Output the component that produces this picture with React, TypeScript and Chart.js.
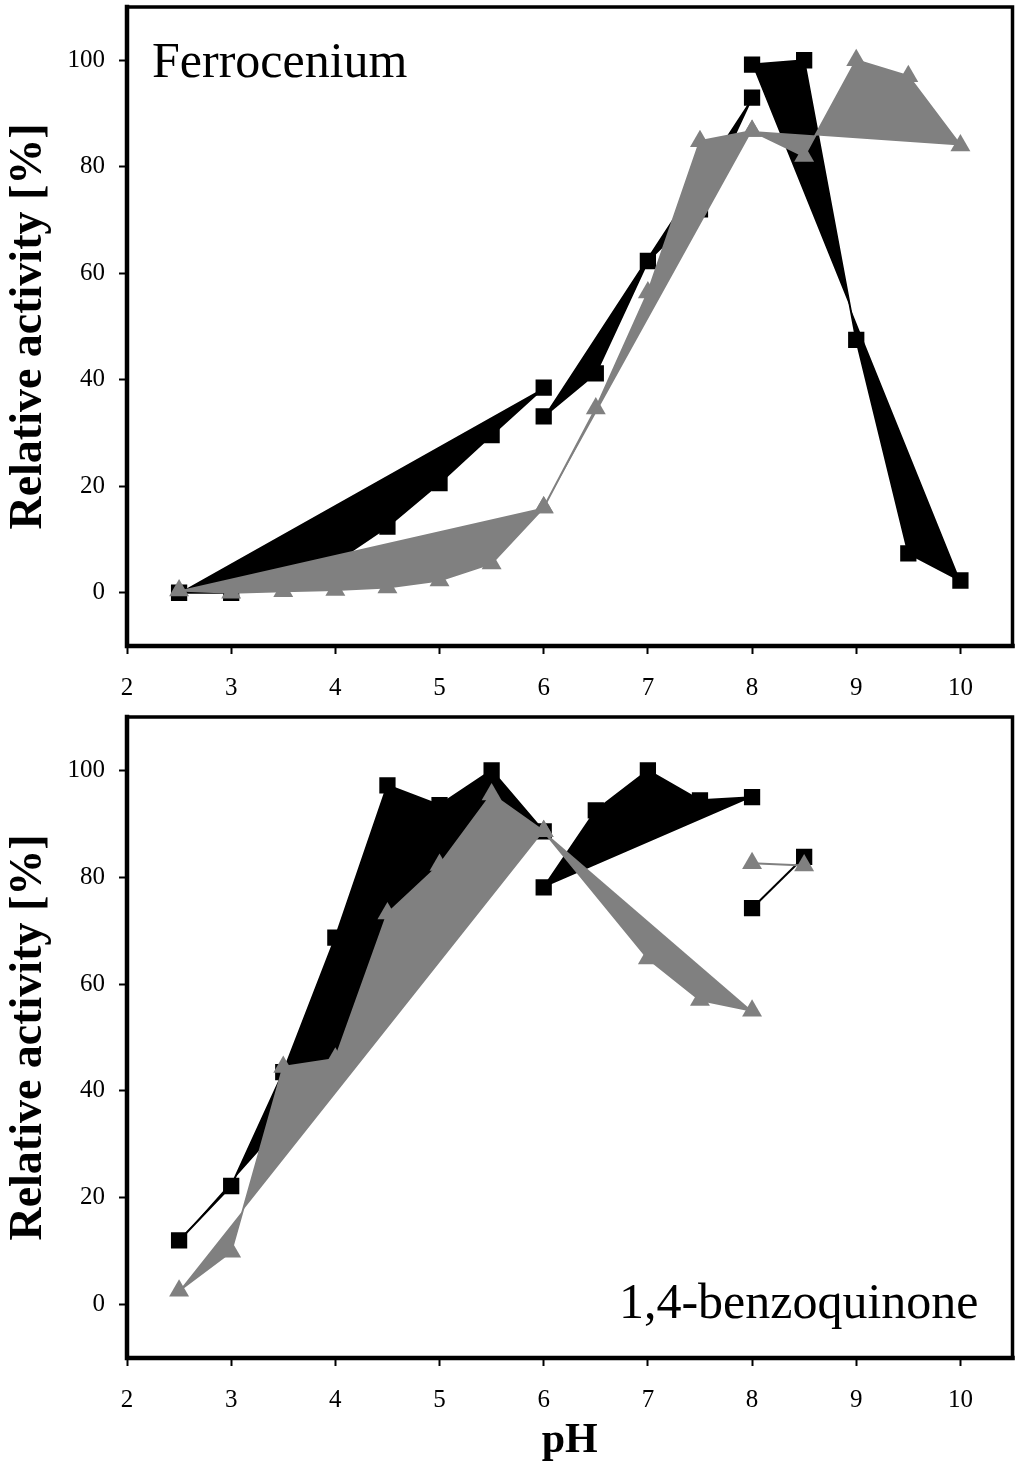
import React, { useEffect, useRef } from "react";
import { Chart, registerables } from "chart.js";

Chart.register(...registerables);

// ---------- data ----------
const xTickValues = [2, 3, 4, 5, 6, 7, 8, 9, 10];
const yTickValues = [0, 20, 40, 60, 80, 100];

// Ferrocenium – black squares (three buffer segments)
const ferroBlackA_pH = [2.5, 3, 3.5, 4, 4.5, 5, 5.5, 6];
const ferroBlackA_act = [0, 0, 2, 5.8, 12.4, 20.6, 29.6, 38.5];
const ferroBlackB_pH = [6, 6.5, 7, 7.5, 8];
const ferroBlackB_act = [33.1, 41.2, 62.3, 72, 93];
const ferroBlackC_pH = [8, 8.5, 9, 9.5, 10];
const ferroBlackC_act = [99.2, 100, 47.5, 7.4, 2.3];

// Ferrocenium – grey triangles
const ferroGreyA_pH = [2.5, 3, 3.5, 4, 4.5, 5, 5.5, 6];
const ferroGreyA_act = [0.4, 0, 0.3, 0.5, 1, 2.3, 5.5, 16];
const ferroGreyB_pH = [6, 6.5, 7, 7.5, 8];
const ferroGreyB_act = [16, 34.6, 56.4, 84.8, 86.7];
const ferroGreyC_pH = [8, 8.5, 9, 9.5, 10];
const ferroGreyC_act = [86.7, 82, 100, 97, 84];

// 1,4-benzoquinone – black squares
const bqBlackA_pH = [2.5, 3, 3.5, 4, 4.5, 5, 5.5, 6];
const bqBlackA_act = [12, 22.2, 43.5, 68.7, 97.2, 93.5, 100, 88.6];
const bqBlackB_pH = [6, 6.5, 7, 7.5, 8];
const bqBlackB_act = [78.1, 92.5, 100, 94.4, 95];
const bqBlackC_pH = [8, 8.5];
const bqBlackC_act = [74.2, 83.8];

// 1,4-benzoquinone – grey triangles
const bqGreyA_pH = [2.5, 3, 3.5, 4, 4.5, 5, 5.5, 6];
const bqGreyA_act = [2.6, 9.9, 44.5, 46, 73.2, 82.3, 95.5, 88.6];
const bqGreyB_pH = [6, 7, 7.5, 8];
const bqGreyB_act = [88.6, 64.8, 57, 55];
const bqGreyC_pH = [8, 8.5];
const bqGreyC_act = [82.6, 82.2];

// ---------- styling ----------
const FONT = "'Liberation Serif', 'Times New Roman', Times, serif";
const BLACK = "#000000";
const GREY = "#808080";

function toPoints(xs: number[], ys: number[]) {
  return xs.map((x, i) => ({ x, y: ys[i] }));
}

function segment(xs: number[], ys: number[], color: string, style: string, order: number) {
  return {
    data: toPoints(xs, ys),
    borderColor: color,
    backgroundColor: color,
    borderWidth: 2,
    fill: "shape",
    tension: 0,
    pointStyle: style,
    pointRadius: 11.5,
    pointBackgroundColor: color,
    pointBorderColor: color,
    pointBorderWidth: 0,
    order,
  };
}

const framePlugin = {
  id: "frame",
  afterDraw(chart: any) {
    const { ctx, chartArea: a } = chart;
    ctx.save();
    ctx.strokeStyle = BLACK;
    ctx.lineCap = "square";
    ctx.lineWidth = 3.5;
    ctx.beginPath();
    ctx.moveTo(a.left, a.top);
    ctx.lineTo(a.right, a.top);
    ctx.lineTo(a.right, a.bottom);
    ctx.stroke();
    ctx.lineWidth = 4.5;
    ctx.beginPath();
    ctx.moveTo(a.left, a.top);
    ctx.lineTo(a.left, a.bottom);
    ctx.lineTo(a.right, a.bottom);
    ctx.stroke();
    ctx.restore();
  },
};

function panelLabelPlugin(text: string, corner: "topleft" | "bottomright") {
  return {
    id: "panelLabel",
    afterDraw(chart: any) {
      const { ctx, chartArea: a } = chart;
      ctx.save();
      ctx.fillStyle = BLACK;
      ctx.font = `50px ${FONT}`;
      ctx.textBaseline = "alphabetic";
      if (corner === "topleft") {
        ctx.textAlign = "left";
        ctx.fillText(text, a.left + 25, a.top + 70);
      } else {
        ctx.textAlign = "right";
        ctx.fillText(text, a.right - 34, a.bottom - 40);
      }
      ctx.restore();
    },
  };
}

function makeConfig(
  datasets: any[],
  label: string,
  corner: "topleft" | "bottomright",
  padTop: number,
  xHeight: number,
  showXTitle: boolean
): any {
  const grid = {
    display: true,
    drawOnChartArea: false,
    drawTicks: true,
    tickLength: 8,
    tickWidth: 2,
    tickColor: BLACK,
    color: BLACK,
  };
  return {
    type: "line",
    data: { datasets },
    options: {
      responsive: false,
      animation: false,
      devicePixelRatio: 1,
      events: [],
      layout: { padding: { top: padTop, right: 7, left: 0, bottom: 0 } },
      plugins: { legend: { display: false }, tooltip: { enabled: false } },
      scales: {
        x: {
          type: "linear",
          min: 2,
          max: 10.5,
          afterBuildTicks: (s: any) => {
            s.ticks = xTickValues.map((v) => ({ value: v }));
          },
          afterFit: (s: any) => {
            s.height = xHeight;
            s.paddingLeft = 0;
            s.paddingRight = 0;
            s.paddingTop = 0;
            s.paddingBottom = 0;
          },
          grid,
          border: { display: false },
          ticks: {
            color: BLACK,
            font: { family: FONT, size: 25 },
            padding: 19,
            maxRotation: 0,
            autoSkip: false,
          },
          title: {
            display: showXTitle,
            text: "pH",
            color: BLACK,
            font: { family: FONT, size: 42, weight: "bold" },
            padding: { top: 0, bottom: 0 },
          },
        },
        y: {
          type: "linear",
          min: -10,
          max: 110,
          afterBuildTicks: (s: any) => {
            s.ticks = yTickValues.map((v) => ({ value: v }));
          },
          afterFit: (s: any) => {
            s.width = 127;
            s.paddingLeft = 0;
            s.paddingRight = 0;
            s.paddingTop = 0;
            s.paddingBottom = 0;
          },
          grid,
          border: { display: false },
          ticks: {
            color: BLACK,
            font: { family: FONT, size: 25 },
            padding: 14,
          },
          title: {
            display: true,
            text: "Relative activity [%]",
            color: BLACK,
            font: { family: FONT, size: 46, weight: "bold" },
            padding: { top: 2, bottom: 0 },
          },
        },
      },
    },
    plugins: [framePlugin, panelLabelPlugin(label, corner)],
  };
}

function ChartCanvas({ config, top, height }: { config: () => any; top: number; height: number }) {
  const ref = useRef<HTMLCanvasElement | null>(null);
  useEffect(() => {
    if (!ref.current) return;
    const chart = new Chart(ref.current, config());
    return () => chart.destroy();
  }, []);
  return (
    <canvas
      ref={ref}
      width={1024}
      height={height}
      style={{ position: "absolute", left: 0, top, width: 1024, height }}
    />
  );
}

export default function App() {
  const topConfig = () =>
    makeConfig(
      [
        segment(ferroGreyA_pH, ferroGreyA_act, GREY, "triangle", 0),
        segment(ferroGreyB_pH, ferroGreyB_act, GREY, "triangle", 0),
        segment(ferroGreyC_pH, ferroGreyC_act, GREY, "triangle", 0),
        segment(ferroBlackA_pH, ferroBlackA_act, BLACK, "rect", 1),
        segment(ferroBlackB_pH, ferroBlackB_act, BLACK, "rect", 1),
        segment(ferroBlackC_pH, ferroBlackC_act, BLACK, "rect", 1),
      ],
      "Ferrocenium",
      "topleft",
      17,
      54,
      false
    );
  const bottomConfig = () =>
    makeConfig(
      [
        segment(bqGreyA_pH, bqGreyA_act, GREY, "triangle", 0),
        segment(bqGreyB_pH, bqGreyB_act, GREY, "triangle", 0),
        segment(bqGreyC_pH, bqGreyC_act, GREY, "triangle", 0),
        segment(bqBlackA_pH, bqBlackA_act, BLACK, "rect", 1),
        segment(bqBlackB_pH, bqBlackB_act, BLACK, "rect", 1),
        segment(bqBlackC_pH, bqBlackC_act, BLACK, "rect", 1),
      ],
      "1,4-benzoquinone",
      "bottomright",
      17,
      108,
      true
    );
  return (
    <div
      style={{
        position: "absolute",
        left: 0,
        top: 0,
        width: 1024,
        height: 1466,
        background: "#ffffff",
        overflow: "hidden",
      }}
    >
      <ChartCanvas config={topConfig} top={-10} height={710} />
      <ChartCanvas config={bottomConfig} top={700} height={766} />
    </div>
  );
}
